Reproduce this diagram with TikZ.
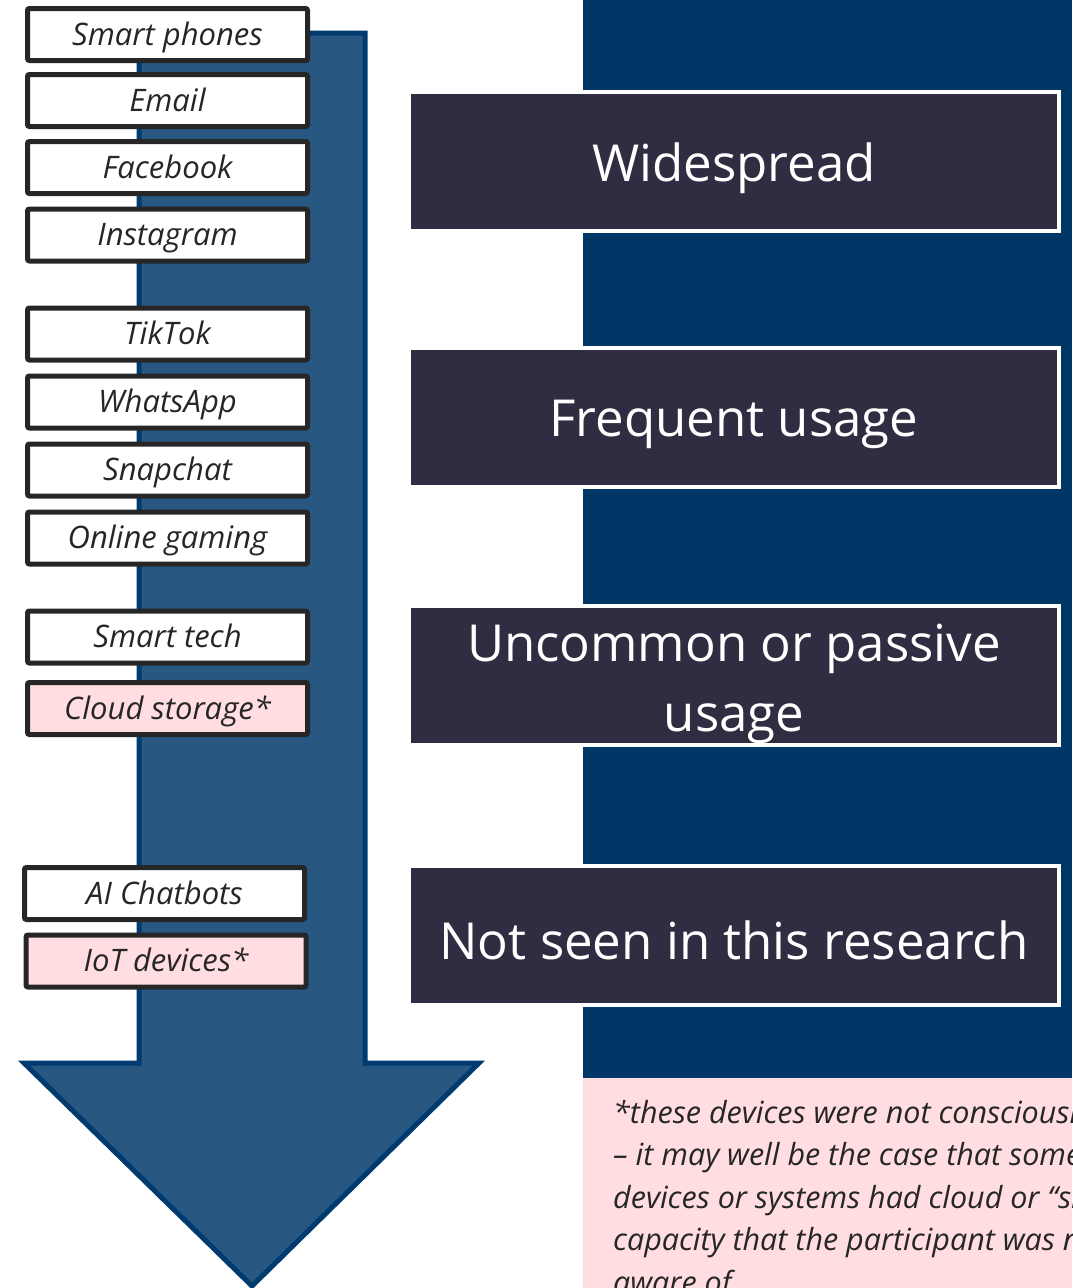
\documentclass[tikz,border=0pt]{standalone}
\usepackage{fontspec}
\setmainfont{Open Sans}
\definecolor{navybg}{HTML}{003767}
\definecolor{arrowfill}{HTML}{285782}
\definecolor{arrowline}{HTML}{003A6E}
\definecolor{catfill}{HTML}{302D42}
\definecolor{pinkbg}{HTML}{FFDDE0}
\definecolor{itemline}{HTML}{262626}
\begin{document}
\begin{tikzpicture}[x=1pt,y=-1pt,
  item/.style={draw=itemline, line width=5pt, fill=white, rounded corners=2pt,
    minimum width=280pt, minimum height=52pt, inner sep=0pt,
    text height=25pt, text depth=4pt,
    text=itemline, font=\itshape\fontsize{31}{34}\selectfont},
  pinkitem/.style={item, fill=pinkbg},
  cat/.style={draw=white, line width=4pt, fill=catfill, minimum width=650pt,
    minimum height=139pt, inner sep=0pt},
  cattext/.style={text=white, align=center, inner sep=0pt,
    font=\fontsize{51}{70}\selectfont}]
\useasboundingbox (0,0) rectangle (1072,1288);
% right background
\fill[navybg] (583,0) rectangle (1072,1078);
\fill[pinkbg] (583,1078) rectangle (1072,1288);
% big arrow
\draw[arrowline, line width=5pt, fill=arrowfill, line join=miter]
  (139,33) -- (365,33) -- (365,1063) -- (479,1063) -- (252,1286)
  -- (24,1063) -- (139,1063) -- cycle;
% items
\node[item] (sp) at (167.5,34.5) {Smart phones};
\node[item] (em) at (167.5,100.5) {Email};
\node[item] (fb) at (167.5,167.5) {Facebook};
\node[item] (ig) at (167.5,235) {Instagram};
\node[item] (tt) at (167.5,334) {TikTok};
\node[item] (wa) at (167.5,402) {WhatsApp};
\node[item] (sc) at (167.5,470) {Snapchat};
\node[item] (og) at (167.5,538) {Online gaming};
\node[item] (st) at (167.5,637) {Smart tech};
\node[pinkitem] (cs) at (167.5,708.5) {Cloud storage*};
\node[item] (ai) at (164.5,893.5) {AI Chatbots};
\node[pinkitem] (iot) at (166,961) {IoT devices*};
% categories
\node[cat] (c1) at (734,161) {};
\node[cat] (c2) at (734,417) {};
\node[cat] (c3) at (734,675) {};
\node[cat] (c4) at (734,935) {};
\node[cattext, yshift=-7pt] (t1) at (c1) {Widespread};
\node[cattext, yshift=-7pt] (t2) at (c2) {Frequent usage};
\node[cattext, yshift=-9pt] (t3) at (c3) {Uncommon or passive\\usage};
\node[cattext, yshift=-5pt] (t4) at (c4) {Not seen in this research};
% footnote
\begin{scope}
\clip (583,1078) rectangle (1072,1288);
\node[anchor=north west, inner sep=0pt, align=left, text=itemline,
  font=\itshape\fontsize{30.5}{42.5}\selectfont] (fn) at (613,1100)
  {*these devices were not consciously used\\
   -- it may well be the case that some of their\\
   devices or systems had cloud or “smart”\\
   capacity that the participant was not\\
   aware of.};
\end{scope}
\end{tikzpicture}
\end{document}
